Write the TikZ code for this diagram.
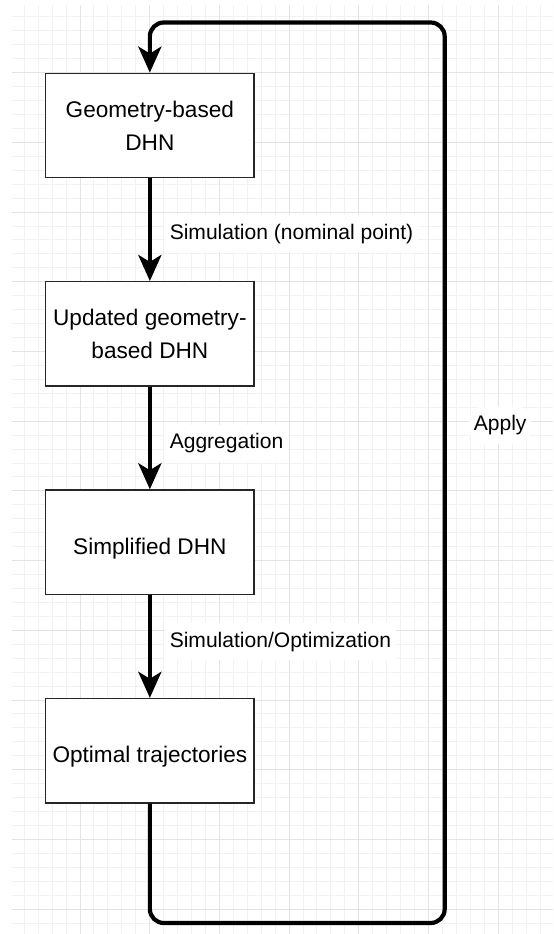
\documentclass[tikz,border=0pt]{standalone}
\usepackage{fontspec}
\setmainfont{Liberation Sans}
\usetikzlibrary{arrows.meta}
\begin{document}
\begin{tikzpicture}[x=0.75pt,y=-0.75pt,
  stage/.style={draw=black!85, line width=1.1pt, fill=white,
    minimum width=156.2pt, minimum height=78.2pt, inner sep=0pt,
    align=center, font=\fontsize{16.95pt}{24.75pt}\selectfont},
  oneline/.style={text height=18pt, text depth=0pt},
  flow/.style={line width=3.15pt,
    -{Stealth[length=19.5pt, width=17.3pt, inset=5.2pt]}},
  steplabel/.style={fill=white, anchor=west, inner xsep=3.45pt, inner ysep=0pt,
    minimum height=27.75pt, text height=11.85pt, text depth=3.2pt,
    font=\fontsize{15.8pt}{19pt}\selectfont},
  minorgrid/.style={black!5, line width=0.75pt},
  majorgrid/.style={black!11, line width=0.75pt}]

\useasboundingbox (0,0) rectangle (553,934);

% background grid
\begin{scope}
  \clip (12,5) rectangle (553,934);
  \foreach \k in {-4,...,34}
    \draw[minorgrid] ({80+13.94*\k},5) -- ++(0,929);
  \foreach \k in {-5,...,62}
    \draw[minorgrid] (12,{72.7+13.94*\k}) -- ++(541,0);
  \foreach \k in {-1,...,7}
    \draw[majorgrid] ({80+69.7*\k},5) -- ++(0,929);
  \foreach \k in {-1,...,13}
    \draw[majorgrid] (12,{72.7+69.7*\k}) -- ++(541,0);
\end{scope}

% processing stages
\node[stage] (b1) at (149.85,125.5) {Geometry-based\\DHN};
\node[stage] (b2) at (149.85,333.85) {Updated geometry-\\based DHN};
\node[stage, oneline] (b3) at (149.85,542.15) {Simplified DHN};
\node[stage, oneline] (b4) at (149.85,750.7) {Optimal trajectories};

% forward steps
\draw[flow] (b1) -- node[steplabel, pos=0.535, xshift=9.9pt] {Simulation (nominal point)} (b2);
\draw[flow] (b2) -- node[steplabel, pos=0.55, xshift=9.9pt] {Aggregation} (b3);
\draw[flow] (b3) -- node[steplabel, pos=0.454, xshift=9.9pt] {Simulation/Optimization} (b4);

% feedback loop
\coordinate (br) at (444.7,923);
\coordinate (tr) at (444.7,22.5);
\draw[flow, rounded corners=10.5pt] (b4) |- (br)
  -- node[steplabel, pos=0.553, xshift=16.8pt] {Apply} (tr) -| (b1);
\end{tikzpicture}
\end{document}
